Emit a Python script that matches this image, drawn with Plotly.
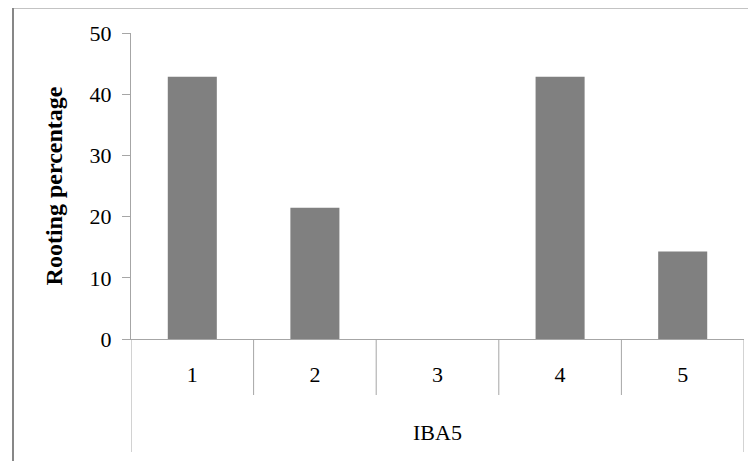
import plotly.graph_objects as go

categories = ["1", "2", "3", "4", "5"]
rooting_pct = [42.86, 21.43, 0, 42.86, 14.29]
group_label = "IBA5"
y_title = "Rooting percentage"
y_ticks = [0, 10, 20, 30, 40, 50]

FONT = "Liberation Serif"
AX = "#a6a6a6"
O = 8  # page body margin offset

fig = go.Figure(go.Bar(x=categories, y=rooting_pct, marker_color="#808080",
                       marker_line_width=0, width=0.4))

W, H = 756 - O, 461 - O
PL, PR, PT, PB = 131, 744, 33, 339
L, T = PL - O, PT - O
R = W - (PR - O)
B = H - (PB - O)
pw, ph = PR - PL, PB - PT

def px2paper_x(px):
    return (px - PL) / pw

def py2paper_y(py):
    return (PB - py) / ph

shapes = []
for i in range(1, len(categories)):
    shapes.append(dict(type="line", xref="x", yref="paper", x0=i - 0.5, x1=i - 0.5,
                       y0=0, y1=py2paper_y(395), line=dict(color=AX, width=1)))
for xv in (-0.5, len(categories) - 0.5):
    shapes.append(dict(type="line", xref="x", yref="paper", x0=xv, x1=xv,
                       y0=0, y1=py2paper_y(452), line=dict(color=AX, width=1)))
shapes.append(dict(type="line", xref="paper", yref="paper", x0=px2paper_x(13), x1=px2paper_x(13),
                   y0=py2paper_y(7.5), y1=py2paper_y(470), line=dict(color="#878787", width=2)))
shapes.append(dict(type="line", xref="paper", yref="paper", x0=px2paper_x(12), x1=px2paper_x(770),
                   y0=py2paper_y(7.5), y1=py2paper_y(7.5), line=dict(color="#878787", width=2)))

fig.update_layout(
    width=W, height=H,
    margin=dict(l=L, r=R, t=T, b=B, autoexpand=False),
    paper_bgcolor="white", plot_bgcolor="white",
    font=dict(family=FONT, size=22, color="#000000"),
    showlegend=False,
    shapes=shapes,
    annotations=[dict(text=group_label, xref="x", yref="paper", x=2, y=py2paper_y(432),
                      showarrow=False, font=dict(family=FONT, size=22, color="#000000"),
                      xanchor="center", yanchor="middle")],
    xaxis=dict(range=[-0.5, 4.5], showline=True, linecolor=AX, linewidth=1, ticks="",
               showgrid=False, zeroline=False, ticklabelstandoff=16,
               tickfont=dict(family=FONT, size=22)),
    yaxis=dict(range=[0, 50], tickvals=y_ticks, showline=True, linecolor=AX, linewidth=1,
               ticks="outside", ticklen=8, tickcolor=AX, showgrid=False, zeroline=False,
               ticklabelstandoff=6,
               tickfont=dict(family=FONT, size=22),
               title=dict(text="<b>" + y_title + "</b>", font=dict(family=FONT, size=24),
                          standoff=20)),
)

fig.write_html("out.html")
